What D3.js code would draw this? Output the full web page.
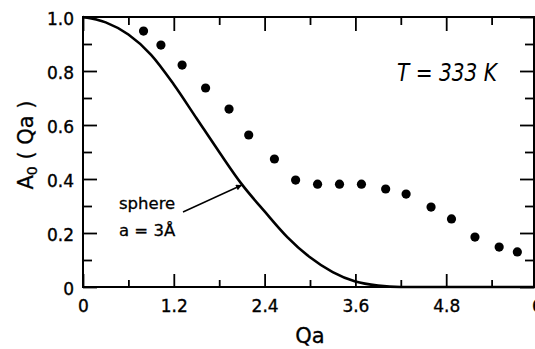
<!DOCTYPE html>
<html>
<head>
<meta charset="utf-8">
<script src="https://cdn.jsdelivr.net/npm/d3@7"></script>
<style>
  html, body { margin: 0; padding: 0; background: #fff; }
  svg { display: block; }
  text { font-family: "DejaVu Sans", sans-serif; fill: #000; }
</style>
</head>
<body>
<svg id="chart" width="535" height="349"></svg>
<script>
// ---- data ----
const dotQa = [0.80, 1.03, 1.31, 1.62, 1.93, 2.19, 2.53, 2.81, 3.10, 3.39, 3.68, 4.00, 4.27, 4.60, 4.87, 5.18, 5.50, 5.74];
const dotA0 = [0.948, 0.896, 0.822, 0.737, 0.659, 0.563, 0.474, 0.396, 0.381, 0.381, 0.381, 0.363, 0.344, 0.296, 0.252, 0.185, 0.148, 0.130];

const curveQa = [0, 0.3, 0.6, 0.9, 1.2, 1.5, 1.8, 2.1, 2.4, 2.7, 3.0, 3.3, 3.6, 3.9, 4.2, 4.8, 6.0];
const curveA0 = [1.0, 0.98, 0.935, 0.86, 0.75, 0.625, 0.50, 0.38, 0.28, 0.185, 0.11, 0.055, 0.02, 0.005, 0, 0, 0];

const xMajor = [0, 1.2, 2.4, 3.6, 4.8, 6.0];
const xMinor = [0.6, 1.8, 3.0, 4.2, 5.4];
const xLabels = ["0", "1.2", "2.4", "3.6", "4.8", "6"];
const yMajor = [0, 0.2, 0.4, 0.6, 0.8, 1.0];
const yMinor = [0.1, 0.3, 0.5, 0.7, 0.9];
const yLabels = ["0", "0.2", "0.4", "0.6", "0.8", "1.0"];

// ---- layout ----
const pLeft = 83, pRight = 534, pTop = 17, pBottom = 287;
const x = d3.scaleLinear().domain([0, 6]).range([pLeft, 537]);
const y = d3.scaleLinear().domain([0, 1]).range([pBottom, pTop]);

const svg = d3.select("#chart");

// frame
svg.append("rect")
  .attr("x", pLeft).attr("y", pTop)
  .attr("width", pRight - pLeft).attr("height", pBottom - pTop)
  .attr("fill", "none").attr("stroke", "#000").attr("stroke-width", 2);

function styleAxis(g) {
  g.select(".domain").remove();
  g.selectAll(".tick line").attr("stroke", "#000").attr("stroke-width", 1.8);
}

// bottom axis
svg.append("g").attr("transform", `translate(0,${pBottom})`)
  .call(d3.axisBottom(x).tickValues(xMajor).tickSize(-13).tickPadding(13)
    .tickFormat((d, i) => xLabels[i]))
  .call(styleAxis)
  .call(g => g.selectAll("text").attr("font-size", 17).attr("font-family", "DejaVu Sans")
    .attr("stroke", "#000").attr("stroke-width", 0.35));
svg.append("g").attr("transform", `translate(0,${pBottom})`)
  .call(d3.axisBottom(x).tickValues(xMinor).tickSize(-7).tickFormat(""))
  .call(styleAxis);

// top axis
svg.append("g").attr("transform", `translate(0,${pTop})`)
  .call(d3.axisTop(x).tickValues(xMajor).tickSize(-14).tickFormat(""))
  .call(styleAxis);
svg.append("g").attr("transform", `translate(0,${pTop})`)
  .call(d3.axisTop(x).tickValues(xMinor).tickSize(-8).tickFormat(""))
  .call(styleAxis);

// left axis
svg.append("g").attr("transform", `translate(${pLeft},0)`)
  .call(d3.axisLeft(y).tickValues(yMajor).tickSize(-14).tickPadding(9)
    .tickFormat((d, i) => yLabels[i]))
  .call(styleAxis)
  .call(g => g.selectAll("text").attr("font-size", 17).attr("dy", "0.45em").attr("font-family", "DejaVu Sans")
    .attr("stroke", "#000").attr("stroke-width", 0.35));
svg.append("g").attr("transform", `translate(${pLeft},0)`)
  .call(d3.axisLeft(y).tickValues(yMinor).tickSize(-9).tickFormat(""))
  .call(styleAxis);

// right axis
svg.append("g").attr("transform", `translate(${pRight},0)`)
  .call(d3.axisRight(y).tickValues(yMajor).tickSize(-14).tickFormat(""))
  .call(styleAxis);
svg.append("g").attr("transform", `translate(${pRight},0)`)
  .call(d3.axisRight(y).tickValues(yMinor).tickSize(-9).tickFormat(""))
  .call(styleAxis);

// curve
const curvePts = curveQa.map((q, i) => [q, curveA0[i]]);
svg.append("path")
  .datum(curvePts)
  .attr("fill", "none").attr("stroke", "#000").attr("stroke-width", 2.6)
  .attr("d", d3.line().x(d => x(d[0])).y(d => y(d[1])).curve(d3.curveMonotoneX));

// dots
svg.append("g").selectAll("circle")
  .data(dotQa.map((q, i) => [q, dotA0[i]]))
  .join("circle")
  .attr("cx", d => x(d[0])).attr("cy", d => y(d[1]))
  .attr("r", 4.6).attr("fill", "#000");

// arrow annotation
svg.append("defs").append("marker")
  .attr("id", "ah").attr("viewBox", "0 0 10 10")
  .attr("refX", 10).attr("refY", 5)
  .attr("markerWidth", 11).attr("markerHeight", 6)
  .attr("markerUnits", "userSpaceOnUse")
  .attr("orient", "auto")
  .append("path").attr("d", "M0,0 L10,5 L0,10 Z").attr("fill", "#000");
svg.append("line")
  .attr("x1", 183).attr("y1", 212).attr("x2", 242).attr("y2", 185)
  .attr("stroke", "#000").attr("stroke-width", 1.4)
  .attr("marker-end", "url(#ah)");

svg.append("text").attr("x", 119).attr("y", 209)
  .attr("font-size", 16.5).attr("stroke", "#000").attr("stroke-width", 0.3).text("sphere");
svg.append("text").attr("x", 119).attr("y", 236)
  .attr("font-size", 16.5).attr("stroke", "#000").attr("stroke-width", 0.3).text("a = 3Å");

// temperature label
svg.append("text").attr("x", 397).attr("y", 81)
  .attr("font-family", "Liberation Sans, Arial, sans-serif")
  .attr("font-style", "italic").attr("font-size", 24)
  .attr("textLength", 100).attr("lengthAdjust", "spacingAndGlyphs")
  .text("T = 333 K");

// axis titles
svg.append("text").attr("x", 310).attr("y", 343)
  .attr("text-anchor", "middle").attr("font-size", 21)
  .attr("stroke", "#000").attr("stroke-width", 0.3).text("Qa");

const yt = svg.append("text")
  .attr("transform", "translate(33,145) rotate(-90)")
  .attr("text-anchor", "middle").attr("font-size", 21)
  .attr("stroke", "#000").attr("stroke-width", 0.3);
yt.append("tspan").text("A");
yt.append("tspan").attr("font-size", 14).attr("dy", 4).text("0");
yt.append("tspan").attr("dy", -4).text(" ( Qa )");
</script>
</body>
</html>
